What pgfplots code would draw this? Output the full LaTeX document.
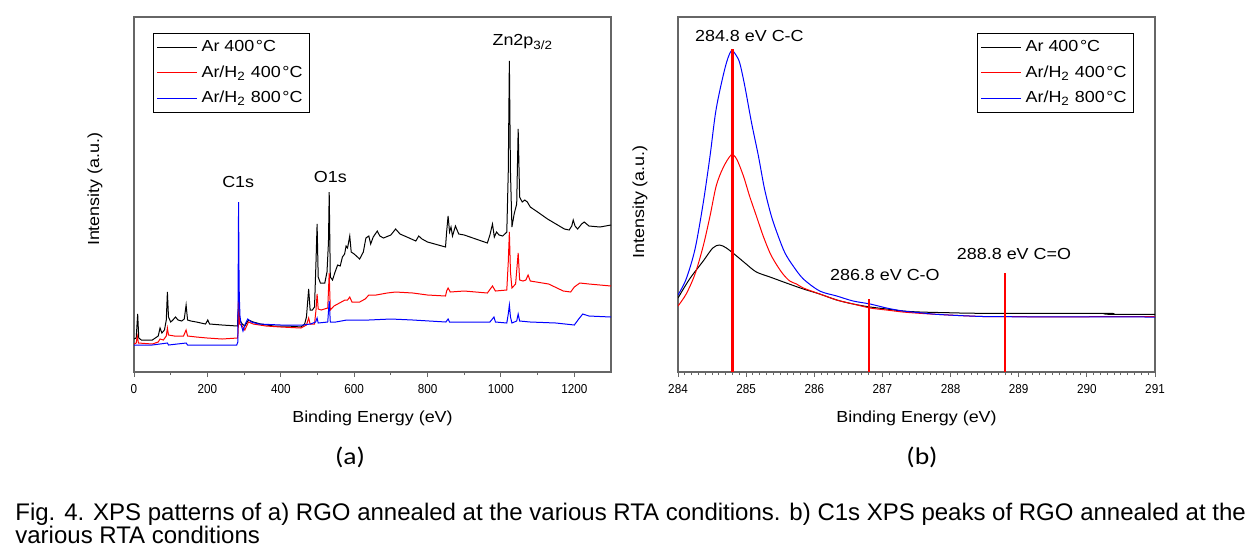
\documentclass[border=0pt]{standalone}
\usepackage{fontspec}
\setmainfont{Liberation Sans}
\newfontfamily\chartfont[FakeStretch=1.12]{Liberation Sans}
\newfontfamily\tickfont[FakeStretch=0.9]{Liberation Sans}
\newfontfamily\panelfont[FakeStretch=1.15]{Carlito}
\usepackage{pgfplots}
\pgfplotsset{compat=1.18}

\newcommand{\cf}{\chartfont\fontsize{8}{9.6}\selectfont}
\newcommand{\tf}{\tickfont\fontsize{6.5}{7.5}\selectfont}
\newcommand{\degC}{\kern0.8pt°C}

\pgfplotsset{
  xps/.style={
    scale only axis, width=238.5pt, height=177.5pt,
    anchor=north west,
    ymin=0, ymax=355, ytick=\empty,
    xtick pos=bottom, tick align=outside,
    major tick length=2.5pt, minor tick length=1.5pt,
    axis line style={black!60, line width=0.6pt},
    every tick/.style={black!60, line width=0.5pt},
    xticklabel style={font=\tf},
    /pgf/number format/assume math mode=true,
    /pgf/number format/1000 sep={},
    xlabel={Binding Energy (eV)}, ylabel={Intensity (a.u.)},
    label style={font=\cf},
    xlabel style={at={(axis description cs:0.5,-0.1296)}, anchor=center},
    legend style={font=\cf, draw=black, line width=0.5pt, fill=white,
                  inner xsep=1.5pt, inner ysep=1.5pt, row sep=1.5pt},
    legend cell align=left,
    legend image code/.code={\draw[#1] (0pt,0pt) -- (20pt,0pt);},
    every axis plot/.append style={line width=0.5pt},
  }
}

\begin{document}
\begin{tikzpicture}
\path[use as bounding box] (0,0) rectangle (623.5pt,-278.5pt);

% (a) survey spectra
\begin{axis}[xps, at={(67pt,-8.5pt)},
  xmin=0, xmax=1300, xtick={0,200,...,1200}, minor tick num=1,
  ylabel style={at={(axis description cs:-0.082,0.515)}, anchor=center},
  legend style={at={(0.04,0.955)}, anchor=north west}]
\addplot[black] coordinates {
(0,33)(6,34)(10,58)(13,34)(20,32)(50,32)(66,36)(71,44)(76,39)(83,42)(88,52)(91,80)(94,55)(100,50)(106,52)(113,55)(120,52)(130,51)(137,53)(142,67)(146,52)(155,51)(170,50)(195,48)(201,52)(206,48)(240,47)(282,46)(285,70)(288,52)(295,48)(302,46)(312,52)(325,50)(345,48)(380,46)(420,46)(455,45)(465,48)(470,55)(476,83)(480,62)(486,62)(492,65)(496,110)(499,148)(502,95)(508,89)(520,89)(526,100)(530,130)(532,180)(535,95)(541,92)(548,100)(555,107)(562,106)(568,115)(574,118)(578,126)(582,124)(588,136)(592,120)(600,118)(615,113)(625,120)(632,134)(640,136)(645,128)(652,135)(663,141)(670,136)(680,134)(700,137)(713,143)(725,138)(750,134)(768,131)(776,136)(785,133)(800,130)(849,125)(852,140)(856,156)(860,140)(864,145)(868,136)(876,146)(885,138)(900,137)(963,129)(970,137)(977,148)(982,135)(988,140)(995,137)(1005,136)(1016,140)(1020,200)(1023,311)(1026,200)(1030,145)(1036,158)(1043,168)(1047,243)(1051,175)(1058,170)(1065,172)(1072,170)(1080,165)(1100,160)(1127,153)(1150,148)(1173,143)(1186,142)(1193,146)(1197,152)(1202,146)(1209,143)(1220,148)(1227,150)(1240,146)(1270,145)(1300,147)};
\addplot[red] coordinates {
(0,28)(6,29)(9,36)(12,29)(50,28)(66,30)(71,33)(80,32)(88,36)(91,44)(94,37)(110,36)(135,36)(142,42)(146,36)(170,35)(200,34)(240,33)(282,34)(284,40)(285,79)(286,60)(288,48)(295,46)(302,42)(312,50)(325,48)(360,46)(400,45)(455,44)(470,47)(476,54)(480,48)(492,48)(496,62)(499,78)(502,63)(510,62)(528,64)(532,99)(535,62)(545,66)(560,69)(575,72)(582,72)(588,75)(594,70)(615,70)(630,73)(640,77)(660,77)(690,79)(713,80)(760,79)(800,77)(849,76)(852,81)(856,84)(862,80)(900,81)(963,79)(977,86)(985,81)(1016,82)(1020,110)(1023,140)(1026,100)(1030,84)(1040,88)(1047,119)(1051,92)(1060,91)(1068,92)(1074,97)(1080,91)(1130,88)(1170,81)(1190,80)(1200,85)(1215,89)(1240,88)(1300,86)};
\addplot[blue] coordinates {
(0,27)(50,27)(91,29)(94,27)(142,29)(146,27)(200,27)(280,27)(283,30)(284,100)(285,170)(286,107)(287,75)(289,55)(293,46)(297,41)(303,48)(310,53)(320,50)(340,48)(400,47)(460,47)(481,48)(495,50)(499,54)(502,49)(528,50)(532,71)(535,50)(550,50)(580,52)(640,52)(700,53)(760,52)(850,50)(856,53)(860,50)(970,50)(981,55)(985,50)(1016,49)(1020,58)(1023,67)(1026,55)(1030,49)(1043,51)(1047,58)(1051,51)(1080,50)(1150,49)(1200,47)(1212,53)(1223,58)(1240,56)(1300,55)};
\legend{Ar 400\degC, Ar/H\textsubscript{2} 400\degC, Ar/H\textsubscript{2} 800\degC}
\node[font=\cf] at (axis cs:284,190) {C1s};
\node[font=\cf] at (axis cs:535,195) {O1s};
\node[font=\cf, anchor=west] at (axis cs:958,330) {Zn2p\textsubscript{3/2}};
\end{axis}

% (b) C1s spectra
\begin{axis}[xps, at={(339pt,-8.5pt)},
  xmin=284, xmax=291, xtick={284,...,291}, minor tick num=9,
  ylabel style={at={(axis description cs:-0.0797,0.479)}, anchor=center},
  legend style={at={(0.956,0.955)}, anchor=north east}]
\addplot[black, smooth] coordinates {
(284,74)(284.17,93)(284.37,111)(284.51,124)(284.61,127)(284.71,124)(284.86,116)(285.0,108)(285.15,100)(285.35,95)(285.59,89)(285.84,83)(286.08,78)(286.33,72)(286.57,68)(286.82,65)(287.06,63)(287.3,61)(287.55,60)(287.96,59.3)(288.5,58.7)(290.29,58.7)(290.32,57.7)(291,57.7)};
\addplot[red, smooth] coordinates {
(284,66)(284.12,78)(284.25,98)(284.37,126)(284.47,156)(284.56,186)(284.66,204)(284.78,217)(284.86,213)(284.96,196)(285.05,176)(285.15,156)(285.25,136)(285.35,119)(285.44,108)(285.54,98)(285.64,91)(285.74,88)(285.84,84)(286.08,78)(286.33,72)(286.57,68)(286.82,64)(287.06,62)(287.3,60)(287.55,58.7)(287.79,57.7)(288.28,56)(288.77,55.3)(291,55.3)};
\addplot[blue, smooth] coordinates {
(284,77)(284.12,93)(284.25,123)(284.37,169)(284.47,216)(284.56,263)(284.69,304)(284.78,321)(284.86,316)(284.91,308)(284.98,286)(285.08,249)(285.18,216)(285.27,183)(285.37,156)(285.47,136)(285.57,119)(285.69,106)(285.84,93)(286.08,81)(286.33,76)(286.57,71)(286.82,68)(287.06,64)(287.3,61)(287.55,59.3)(287.79,57.7)(288.28,56)(288.77,55.3)(291,55)};
\legend{Ar 400\degC, Ar/H\textsubscript{2} 400\degC, Ar/H\textsubscript{2} 800\degC}
\addplot[red, line width=1.25pt, forget plot] coordinates {(284.8,0)(284.8,323)};
\addplot[red, line width=1.25pt, forget plot] coordinates {(286.8,0)(286.8,73)};
\addplot[red, line width=1.25pt, forget plot] coordinates {(288.8,0)(288.8,99)};
\node[font=\cf, anchor=west] at (axis cs:284.147,336) {284.8 eV C-C};
\node[font=\cf, anchor=west] at (axis cs:286.128,97) {286.8 eV C-O};
\node[font=\cf, anchor=west] at (axis cs:287.99,118) {288.8 eV C=O};
\end{axis}

\node[font=\panelfont\fontsize{12}{12}\selectfont] at (175pt,-228.5pt) {(a)};
\node[font=\panelfont\fontsize{12}{12}\selectfont] at (461pt,-228.5pt) {(b)};
\node[font=\fontsize{12}{12}\selectfont, anchor=base west, inner sep=0pt] at (7.5pt,-260pt)
  {Fig. 4. XPS patterns of a) RGO annealed at the various RTA conditions. b) C1s XPS peaks of RGO annealed at the};
\node[font=\fontsize{12}{12}\selectfont, anchor=base west, inner sep=0pt] at (7.5pt,-271.5pt)
  {various RTA conditions};
\end{tikzpicture}
\end{document}
